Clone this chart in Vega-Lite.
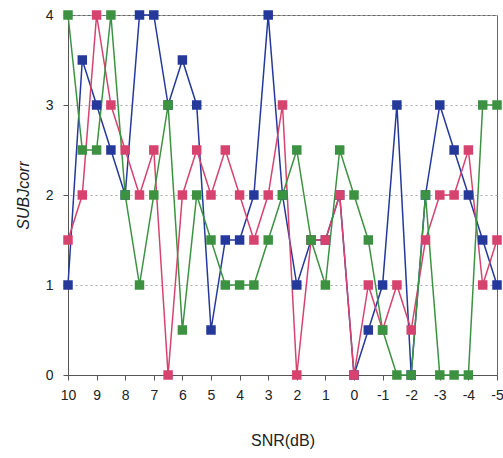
{
  "$schema": "https://vega.github.io/schema/vega-lite/v6.json",
  "width": 429,
  "height": 360,
  "autosize": {"type": "none"},
  "padding": {"left": 68, "top": 15, "right": 6, "bottom": 83},
  "background": "white",
  "config": {
    "view": {"stroke": "#666", "strokeWidth": 1},
    "font": "Liberation Sans"
  },
  "datasets": {
    "d": [
      {"snr":10,"s":"S1","v":1},{"snr":9.5,"s":"S1","v":3.5},{"snr":9,"s":"S1","v":3},{"snr":8.5,"s":"S1","v":2.5},{"snr":8,"s":"S1","v":2},{"snr":7.5,"s":"S1","v":4},{"snr":7,"s":"S1","v":4},{"snr":6.5,"s":"S1","v":3},{"snr":6,"s":"S1","v":3.5},{"snr":5.5,"s":"S1","v":3},{"snr":5,"s":"S1","v":0.5},{"snr":4.5,"s":"S1","v":1.5},{"snr":4,"s":"S1","v":1.5},{"snr":3.5,"s":"S1","v":2},{"snr":3,"s":"S1","v":4},{"snr":2.5,"s":"S1","v":2},{"snr":2,"s":"S1","v":1},{"snr":1.5,"s":"S1","v":1.5},{"snr":1,"s":"S1","v":1.5},{"snr":0.5,"s":"S1","v":2},{"snr":0,"s":"S1","v":0},{"snr":-0.5,"s":"S1","v":0.5},{"snr":-1,"s":"S1","v":1},{"snr":-1.5,"s":"S1","v":3},{"snr":-2,"s":"S1","v":0},{"snr":-2.5,"s":"S1","v":2},{"snr":-3,"s":"S1","v":3},{"snr":-3.5,"s":"S1","v":2.5},{"snr":-4,"s":"S1","v":2},{"snr":-4.5,"s":"S1","v":1.5},{"snr":-5,"s":"S1","v":1},
      {"snr":10,"s":"S2","v":1.5},{"snr":9.5,"s":"S2","v":2},{"snr":9,"s":"S2","v":4},{"snr":8.5,"s":"S2","v":3},{"snr":8,"s":"S2","v":2.5},{"snr":7.5,"s":"S2","v":2},{"snr":7,"s":"S2","v":2.5},{"snr":6.5,"s":"S2","v":0},{"snr":6,"s":"S2","v":2},{"snr":5.5,"s":"S2","v":2.5},{"snr":5,"s":"S2","v":2},{"snr":4.5,"s":"S2","v":2.5},{"snr":4,"s":"S2","v":2},{"snr":3.5,"s":"S2","v":1.5},{"snr":3,"s":"S2","v":2},{"snr":2.5,"s":"S2","v":3},{"snr":2,"s":"S2","v":0},{"snr":1.5,"s":"S2","v":1.5},{"snr":1,"s":"S2","v":1.5},{"snr":0.5,"s":"S2","v":2},{"snr":0,"s":"S2","v":0},{"snr":-0.5,"s":"S2","v":1},{"snr":-1,"s":"S2","v":0.5},{"snr":-1.5,"s":"S2","v":1},{"snr":-2,"s":"S2","v":0.5},{"snr":-2.5,"s":"S2","v":1.5},{"snr":-3,"s":"S2","v":2},{"snr":-3.5,"s":"S2","v":2},{"snr":-4,"s":"S2","v":2.5},{"snr":-4.5,"s":"S2","v":1},{"snr":-5,"s":"S2","v":1.5},
      {"snr":10,"s":"S3","v":4},{"snr":9.5,"s":"S3","v":2.5},{"snr":9,"s":"S3","v":2.5},{"snr":8.5,"s":"S3","v":4},{"snr":8,"s":"S3","v":2},{"snr":7.5,"s":"S3","v":1},{"snr":7,"s":"S3","v":2},{"snr":6.5,"s":"S3","v":3},{"snr":6,"s":"S3","v":0.5},{"snr":5.5,"s":"S3","v":2},{"snr":5,"s":"S3","v":1.5},{"snr":4.5,"s":"S3","v":1},{"snr":4,"s":"S3","v":1},{"snr":3.5,"s":"S3","v":1},{"snr":3,"s":"S3","v":1.5},{"snr":2.5,"s":"S3","v":2},{"snr":2,"s":"S3","v":2.5},{"snr":1.5,"s":"S3","v":1.5},{"snr":1,"s":"S3","v":1},{"snr":0.5,"s":"S3","v":2.5},{"snr":0,"s":"S3","v":2},{"snr":-0.5,"s":"S3","v":1.5},{"snr":-1,"s":"S3","v":0.5},{"snr":-1.5,"s":"S3","v":0},{"snr":-2,"s":"S3","v":0},{"snr":-2.5,"s":"S3","v":2},{"snr":-3,"s":"S3","v":0},{"snr":-3.5,"s":"S3","v":0},{"snr":-4,"s":"S3","v":0},{"snr":-4.5,"s":"S3","v":3},{"snr":-5,"s":"S3","v":3}
    ]
  },
  "data": {"name": "d"},
  "encoding": {
    "x": {
      "field": "snr", "type": "quantitative",
      "scale": {"domain": [-5, 10], "reverse": true, "nice": false, "zero": false},
      "axis": {
        "values": [10,9,8,7,6,5,4,3,2,1,0,-1,-2,-3,-4,-5],
        "labelExpr": "'' + datum.value",
        "title": "SNR(dB)",
        "titleFontSize": 16, "titleFontWeight": "normal", "titleColor": "#222", "titlePadding": 30,
        "labelFontSize": 14, "labelColor": "#222", "labelPadding": 8,
        "tickSize": 5, "tickColor": "#555", "domainColor": "#555",
        "grid": false, "labelFlush": false, "labelOverlap": false
      }
    },
    "y": {
      "field": "v", "type": "quantitative",
      "scale": {"domain": [0, 4], "nice": false},
      "axis": {
        "values": [0,1,2,3,4],
        "title": "SUBJcorr",
        "titleFontSize": 16, "titleFontWeight": "normal", "titleFontStyle": "italic", "titleColor": "#222", "titlePadding": 14,
        "labelFontSize": 14, "labelColor": "#222", "labelPadding": 10,
        "tickSize": 5, "tickColor": "#555", "domainColor": "#555",
        "grid": true, "gridColor": "#aaa", "gridDash": [2, 3], "gridWidth": 1
      }
    },
    "color": {
      "field": "s", "type": "nominal", "legend": null,
      "scale": {"domain": ["S1", "S2", "S3"], "range": ["#24399a", "#d6436e", "#3d9242"]}
    }
  },
  "layer": [
    {"mark": {"type": "line", "strokeWidth": 1.5}},
    {"mark": {"type": "point", "shape": "square", "filled": true, "opacity": 1, "size": 90}}
  ]
}
